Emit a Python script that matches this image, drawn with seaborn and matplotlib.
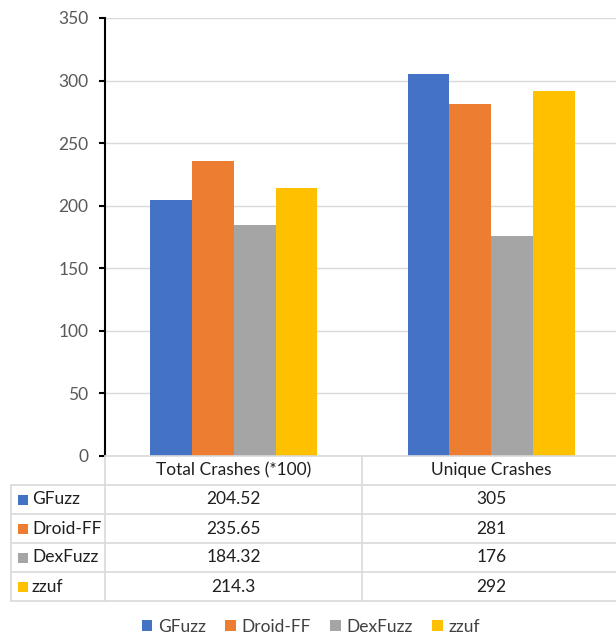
import matplotlib
matplotlib.use("Agg")
import matplotlib.pyplot as plt
import matplotlib.transforms as mtrans
from matplotlib.patches import Rectangle
import seaborn as sns
import pandas as pd

# ---- data ----
categories = ["Total Crashes (*100)", "Unique Crashes"]
tools = ["GFuzz", "Droid-FF", "DexFuzz", "zzuf"]
gfuzz = [204.52, 305]
droid_ff = [235.65, 281]
dexfuzz = [184.32, 176]
zzuf = [214.3, 292]
table_text = {
    "GFuzz": ["204.52", "305"],
    "Droid-FF": ["235.65", "281"],
    "DexFuzz": ["184.32", "176"],
    "zzuf": ["214.3", "292"],
}
yticks = [0, 50, 100, 150, 200, 250, 300, 350]
colors = ["#4472C4", "#ED7D31", "#A5A5A5", "#FFC000"]

series = {"GFuzz": gfuzz, "Droid-FF": droid_ff, "DexFuzz": dexfuzz, "zzuf": zzuf}
rows = []
for t in tools:
    for c, v in zip(categories, series[t]):
        rows.append({"category": c, "tool": t, "value": v})
df = pd.DataFrame(rows)

sns.set_theme(style="white")
plt.rcParams["font.family"] = ["Lato", "DejaVu Sans"]
FS = 12.5

W, H = 616, 634
fig = plt.figure(figsize=(W / 100, H / 100), dpi=100)
ax = fig.add_axes([105 / W, 1 - 456 / H, 515 / W, 438 / H])

sns.barplot(data=df, x="category", y="value", hue="tool", order=categories,
            hue_order=tools, palette=colors, saturation=1, width=0.65, gap=0,
            linewidth=0, legend=False, ax=ax)

ax.set_ylim(0, 350)
ax.set_xlim(-0.5, 1.5)
ax.set_yticks(yticks)
ax.set_yticklabels([str(v) for v in yticks])
ax.set_xticks([])
ax.set_xlabel("")
ax.set_ylabel("")
ax.grid(axis="y", color="#D9D9D9", linewidth=1.0)
ax.set_axisbelow(True)
for s in ["top", "right", "bottom"]:
    ax.spines[s].set_visible(False)
ax.spines["left"].set_color("black")
ax.spines["left"].set_linewidth(1.5)
ax.tick_params(axis="y", left=True, length=4, width=1.5, color="black",
               labelsize=FS, labelcolor="#595959", pad=8)

# ---- data table below the chart ----
ov = fig.add_axes([0, 0, 1, 1], facecolor="none")
ov.set_xlim(0, W)
ov.set_ylim(H, 0)
ov.axis("off")
gc = "#D9D9D9"
row_h = 29
top = 456
n = len(tools)
bottom = top + row_h * (n + 1)
ov.plot([105, W], [top, top], color=gc, lw=1.2)
for i in range(1, n + 2):
    y = top + row_h * i
    ov.plot([11, W], [y, y], color=gc, lw=1.2)
ov.plot([11, 11], [top + row_h, bottom], color=gc, lw=1.2)
ov.plot([105, 105], [top, bottom], color=gc, lw=1.2)
ov.plot([362, 362], [top, bottom], color=gc, lw=1.2)

blend = mtrans.blended_transform_factory(ax.transData, ov.transData)
txtc = "#1F1F1F"
for j, c in enumerate(categories):
    ov.text(j, top + row_h / 2, c, transform=blend, ha="center", va="center",
            fontsize=FS, color=txtc)
for i, t in enumerate(tools):
    yc = top + row_h * (i + 1.5)
    ov.add_patch(Rectangle((18, yc - 5), 10, 10, color=colors[i], lw=0))
    ov.text(32, yc, t, ha="left", va="center", fontsize=FS, color=txtc)
    for j in range(len(categories)):
        ov.text(j, yc, table_text[t][j], transform=blend, ha="center",
                va="center", fontsize=FS, color=txtc)

# ---- legend ----
handles = [Rectangle((0, 0), 1, 1, color=c, lw=0) for c in colors]
fig.legend(handles, tools, loc="center", bbox_to_anchor=(311 / W, 1 - 627 / H),
           ncol=4, frameon=False, fontsize=FS, handlelength=0.6,
           handleheight=0.6, handletextpad=0.35, columnspacing=1.1,
           labelcolor="#404040")

fig.savefig("out.png", dpi=100)
